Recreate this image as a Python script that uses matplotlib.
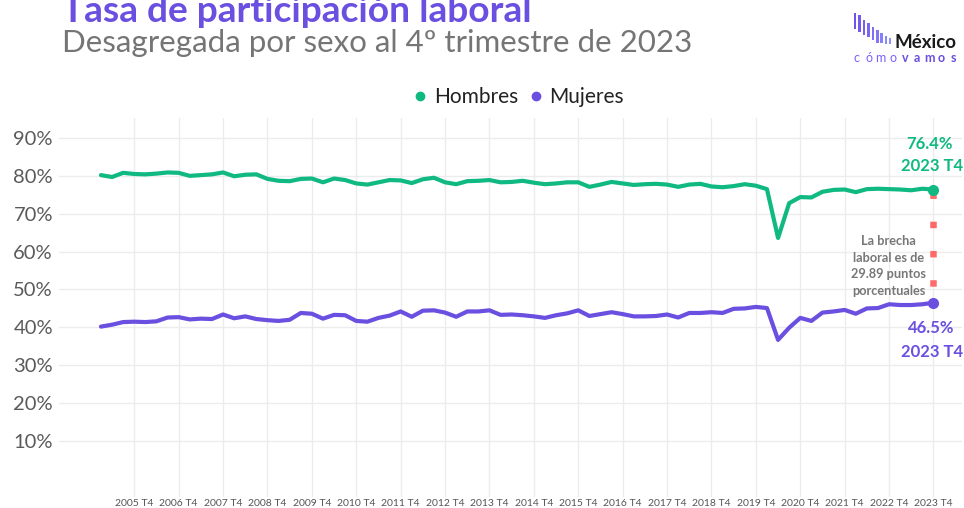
import numpy as np
import matplotlib
matplotlib.use("Agg")
import matplotlib.pyplot as plt
from matplotlib.lines import Line2D
from matplotlib.patches import Rectangle

plt.rcParams['font.family'] = ['Lato', 'DejaVu Sans']

# ---------------- data ----------------
years = list(range(2005, 2024))
quarters = [f"{y} T{q}" for y in years for q in (1, 2, 3, 4)]

hombres = [80.2, 79.7, 80.8, 80.5, 80.4, 80.6, 80.9, 80.8, 80.0, 80.2, 80.4, 80.9,
           79.9, 80.3, 80.4, 79.2, 78.7, 78.6, 79.2, 79.3, 78.3, 79.3, 78.9, 78.0,
           77.7, 78.3, 78.9, 78.8, 78.1, 79.1, 79.5, 78.3, 77.8, 78.6, 78.7, 78.9,
           78.3, 78.4, 78.7, 78.2, 77.8, 78.0, 78.3, 78.3, 77.1, 77.7, 78.4, 78.0,
           77.6, 77.8, 77.9, 77.7, 77.1, 77.7, 77.9, 77.2, 77.0, 77.3, 77.8, 77.4,
           76.5, 63.6, 72.8, 74.4, 74.3, 75.8, 76.3, 76.4, 75.7, 76.5, 76.6, 76.5,
           76.4, 76.2, 76.6, 76.4]

mujeres = [40.2, 40.7, 41.4, 41.5, 41.4, 41.6, 42.6, 42.7, 42.1, 42.3, 42.2, 43.4,
           42.4, 42.9, 42.2, 41.9, 41.7, 42.0, 43.8, 43.6, 42.3, 43.3, 43.2, 41.7,
           41.5, 42.5, 43.1, 44.2, 42.8, 44.4, 44.5, 43.9, 42.8, 44.2, 44.2, 44.5,
           43.3, 43.4, 43.2, 42.9, 42.5, 43.2, 43.7, 44.5, 43.0, 43.5, 44.0, 43.5,
           42.9, 42.9, 43.0, 43.4, 42.6, 43.8, 43.8, 44.0, 43.8, 44.9, 45.0, 45.4,
           45.1, 36.7, 39.9, 42.5, 41.7, 43.9, 44.2, 44.6, 43.6, 45.0, 45.1, 46.1,
           45.9, 45.9, 46.1, 46.5]

brecha_texto = "La brecha\nlaboral es de\n29.89 puntos\nporcentuales"
y_ticks = [10, 20, 30, 40, 50, 60, 70, 80, 90]
tick_labels = [q for q in quarters if q.endswith("T4")]

GREEN = "#10B981"
PURPLE = "#6A4FE0"
RED = "#FF6B6B"
GREY = "#7a7a7a"

W, H = 964, 508
PT = 0.72  # points per pixel at dpi 100

fig = plt.figure(figsize=(W / 100, H / 100), dpi=100)
ax = fig.add_axes([59 / W, (H - 497) / H, (962 - 59) / W, (497 - 118) / H])

x = np.arange(len(quarters))
ax.plot(x, hombres, color=GREEN, lw=3.0, solid_joinstyle='round',
        solid_capstyle='round', zorder=3, label="Hombres")
ax.plot(x, mujeres, color=PURPLE, lw=3.0, solid_joinstyle='round',
        solid_capstyle='round', zorder=3, label="Mujeres")

# gap line
ax.plot([x[-1], x[-1]], [hombres[-1], mujeres[-1]], color=RED, lw=6.5 * PT,
        linestyle=(4.2, (1.0, 3.5)), dash_capstyle='butt', zorder=2)
ax.plot(x[-1], hombres[-1], 'o', ms=7, color=GREEN, zorder=4)
ax.plot(x[-1], mujeres[-1], 'o', ms=7, color=PURPLE, zorder=4)

lab_kw = dict(textcoords='offset points', ha='center', va='center',
              fontsize=12, fontweight='bold')
ax.annotate(f"{hombres[-1]:.1f}%", (x[-1], hombres[-1]), xytext=(-4 * PT, 46 * PT),
            color=GREEN, **lab_kw)
ax.annotate(f"{tick_labels[-1]}", (x[-1], hombres[-1]), xytext=(-1 * PT, 24 * PT),
            color=GREEN, **lab_kw)
ax.annotate(f"{mujeres[-1]:.1f}%", (x[-1], mujeres[-1]), xytext=(-2 * PT, -25 * PT),
            color=PURPLE, **lab_kw)
ax.annotate(f"{tick_labels[-1]}", (x[-1], mujeres[-1]), xytext=(-1 * PT, -49 * PT),
            color=PURPLE, **lab_kw)
ax.annotate(brecha_texto, (x[-1], (hombres[-1] + mujeres[-1]) / 2),
            xytext=(-45 * PT, -20 * PT), textcoords='offset points',
            ha='center', va='center', fontsize=9.2, fontweight='bold',
            color="#777777", linespacing=1.45, multialignment='center')

ax.set_xlim(-3.78, 77.57)
ax.set_ylim(-4.79, 95.28)
ax.set_yticks(y_ticks)
ax.set_yticklabels([f"{v}%" for v in y_ticks], fontsize=14.5, color="#5a5a5a")
ax.set_xticks([quarters.index(t) for t in tick_labels])
ax.set_xticklabels(tick_labels, fontsize=7.5, color="#555555")
ax.tick_params(length=0)
ax.tick_params(axis='y', pad=6 * PT)
ax.tick_params(axis='x', pad=2 * PT)
ax.grid(True, color="#ececec", lw=1)
ax.set_axisbelow(True)
for s in ax.spines.values():
    s.set_visible(False)

# legend
handles = [Line2D([], [], marker='o', ls='none', color=GREEN, ms=6),
           Line2D([], [], marker='o', ls='none', color=PURPLE, ms=6)]
fig.legend(handles, ["Hombres", "Mujeres"], loc='center',
           bbox_to_anchor=(519 / W, 1 - 97 / H), ncol=2, frameon=False,
           fontsize=15, handlelength=0.6, handletextpad=0.35,
           columnspacing=0.55, labelcolor="#222222")

# titles
fig.text(62 / W, 1 - 22 / H, "Tasa de participación laboral", fontsize=26.7,
         fontweight='bold', color=PURPLE, va='baseline', ha='left')
fig.text(62 / W, 1 - 52 / H, "Desagregada por sexo al 4º trimestre de 2023",
         fontsize=22.5, color="#757575", va='baseline', ha='left')

# logo (overlay axes in pixel coordinates)
lax = fig.add_axes([0, 0, 1, 1], zorder=5)
lax.set_xlim(0, W)
lax.set_ylim(H, 0)
lax.axis('off')
bars = [(855, 13, 29), (859.5, 15, 32), (864, 20, 35), (868.5, 23, 37),
        (873, 27, 40), (877.5, 30, 43), (881.5, 33, 43), (886, 36, 44), (890, 38, 44)]
bar_cols = ["#7152ee", "#7458f0", "#785ff2", "#7b66f4", "#7f6ef6",
            "#8276f7", "#867ff9", "#8988fa", "#8d91fc"]
for (bx, bt, bb), c in zip(bars, bar_cols):
    lax.add_patch(Rectangle((bx - 1.25, bt), 2.5, bb - bt, color=c, lw=0))
lax.text(894, 48.5, "México", fontsize=13.5, fontweight='bold', color="#1a1a1a",
         va='baseline', ha='left')
letters = list("cómovamos")
for i, ch in enumerate(letters):
    lax.text(856.5 + 12.1 * i, 62.5, ch, fontsize=9,
             fontweight='bold' if i >= 4 else 'normal',
             color="#6A4FE0" if i >= 4 else "#7b61ff", va='baseline', ha='center')

fig.savefig("out.png", dpi=100)
